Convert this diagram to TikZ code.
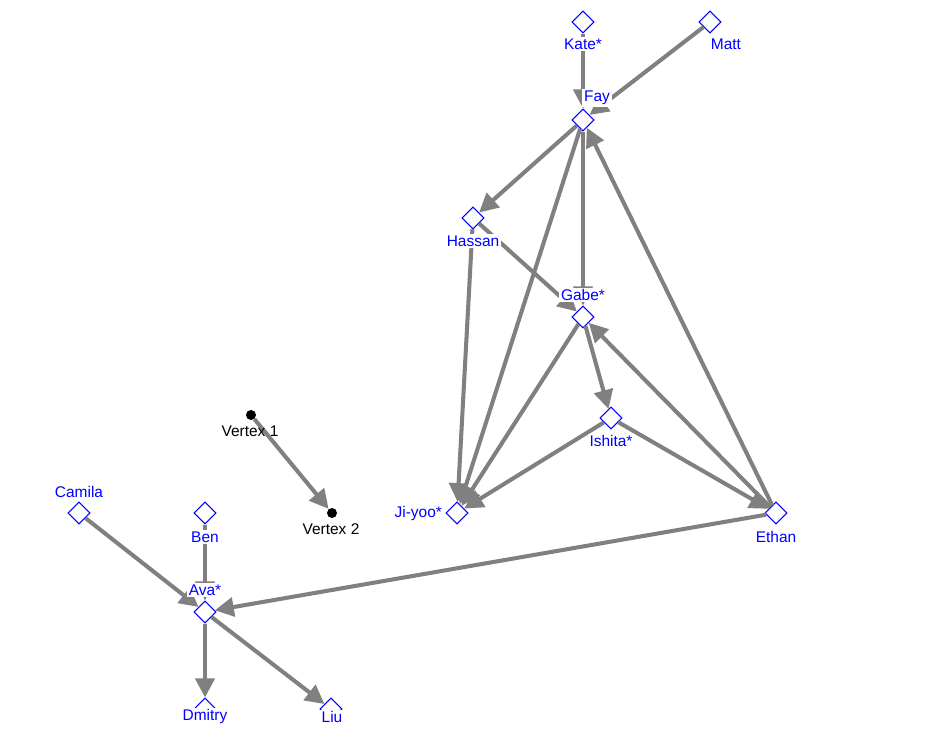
\documentclass[tikz,border=0pt]{standalone}
\usepackage{fontspec}
\setmainfont{Liberation Sans}
\usetikzlibrary{shapes.geometric,arrows.meta}

\begin{document}
\begin{tikzpicture}[x=0.02cm, y=-0.02cm,
    person/.style={diamond, draw=blue, fill=white, line width=0.6pt, minimum width=0.44cm, minimum height=0.44cm, inner sep=0pt},
    dot/.style={circle, fill=black, minimum size=0.2cm, inner sep=0pt},
    link/.style={draw=gray, line width=2.3pt, -{Triangle[length=0.38cm, width=0.38cm]}},
    plabel/.style={fill=white, inner sep=1pt, text=blue, font=\fontsize{8.8}{10}\selectfont},
    vlabel/.style={inner sep=1pt, font=\fontsize{8.8}{10}\selectfont}
]
\useasboundingbox (0,0) rectangle (950,732);

% People
\node[person] (kate) at (583,22) {};
\node[person] (matt) at (710,22) {};
\node[person] (fay) at (583,120) {};
\node[person] (hassan) at (473,218) {};
\node[person] (gabe) at (583,317) {};
\node[person] (ishita) at (611,418) {};
\node[person] (jiyoo) at (457,513) {};
\node[person] (ethan) at (776,513) {};
\node[person] (camila) at (79,513) {};
\node[person] (ben) at (205,513) {};
\node[person] (ava) at (205,612) {};
\node[person] (dmitry) at (205,709) {};
\node[person] (liu) at (331,709) {};

% Plain vertices
\node[dot] (v1) at (251,415) {};
\node[dot] (v2) at (332,513) {};

% Links
\draw[link] (kate) -- (fay);
\draw[link] (matt) -- (fay);
\draw[link] (fay) -- (hassan);
\draw[link] (fay) -- (gabe);
\draw[link] (fay) -- (jiyoo);
\draw[link] (hassan) -- (gabe);
\draw[link] (hassan) -- (jiyoo);
\draw[link] (gabe) -- (jiyoo);
\draw[link] (gabe) -- (ishita);
\draw[link] (ishita) -- (jiyoo);
\draw[link] (ishita) -- (ethan);
\draw[link] (ethan) -- (gabe);
\draw[link] (ethan) -- (fay);
\draw[link] (ethan) -- (ava);
\draw[link] (camila) -- (ava);
\draw[link] (ben) -- (ava);
\draw[link] (ava) -- (dmitry);
\draw[link] (ava) -- (liu);
\draw[link] (v1) -- (v2);

% Labels
\node[plabel] (kate-l) at (583,44) {Kate*};
\node[plabel] (matt-l) at (726,44) {Matt};
\node[plabel] (fay-l) at (597,98) {Fay};
\node[plabel] (hassan-l) at (473,241) {Hassan};
\node[plabel] (gabe-l) at (583,295) {Gabe*};
\node[plabel] (ishita-l) at (611,441) {Ishita*};
\node[plabel, anchor=east] (jiyoo-l) at (444,514) {Ji-yoo*};
\node[plabel] (ethan-l) at (776,537) {Ethan};
\node[plabel] (camila-l) at (79,492) {Camila};
\node[plabel] (ben-l) at (205,537) {Ben};
\node[plabel] (ava-l) at (205,590) {Ava*};
\node[plabel] (dmitry-l) at (205,717) {Dmitry};
\node[plabel] (liu-l) at (332,717) {Liu};
\node[vlabel] (v1-l) at (250,431) {Vertex 1};
\node[vlabel] (v2-l) at (331,529) {Vertex 2};
\end{tikzpicture}
\end{document}
